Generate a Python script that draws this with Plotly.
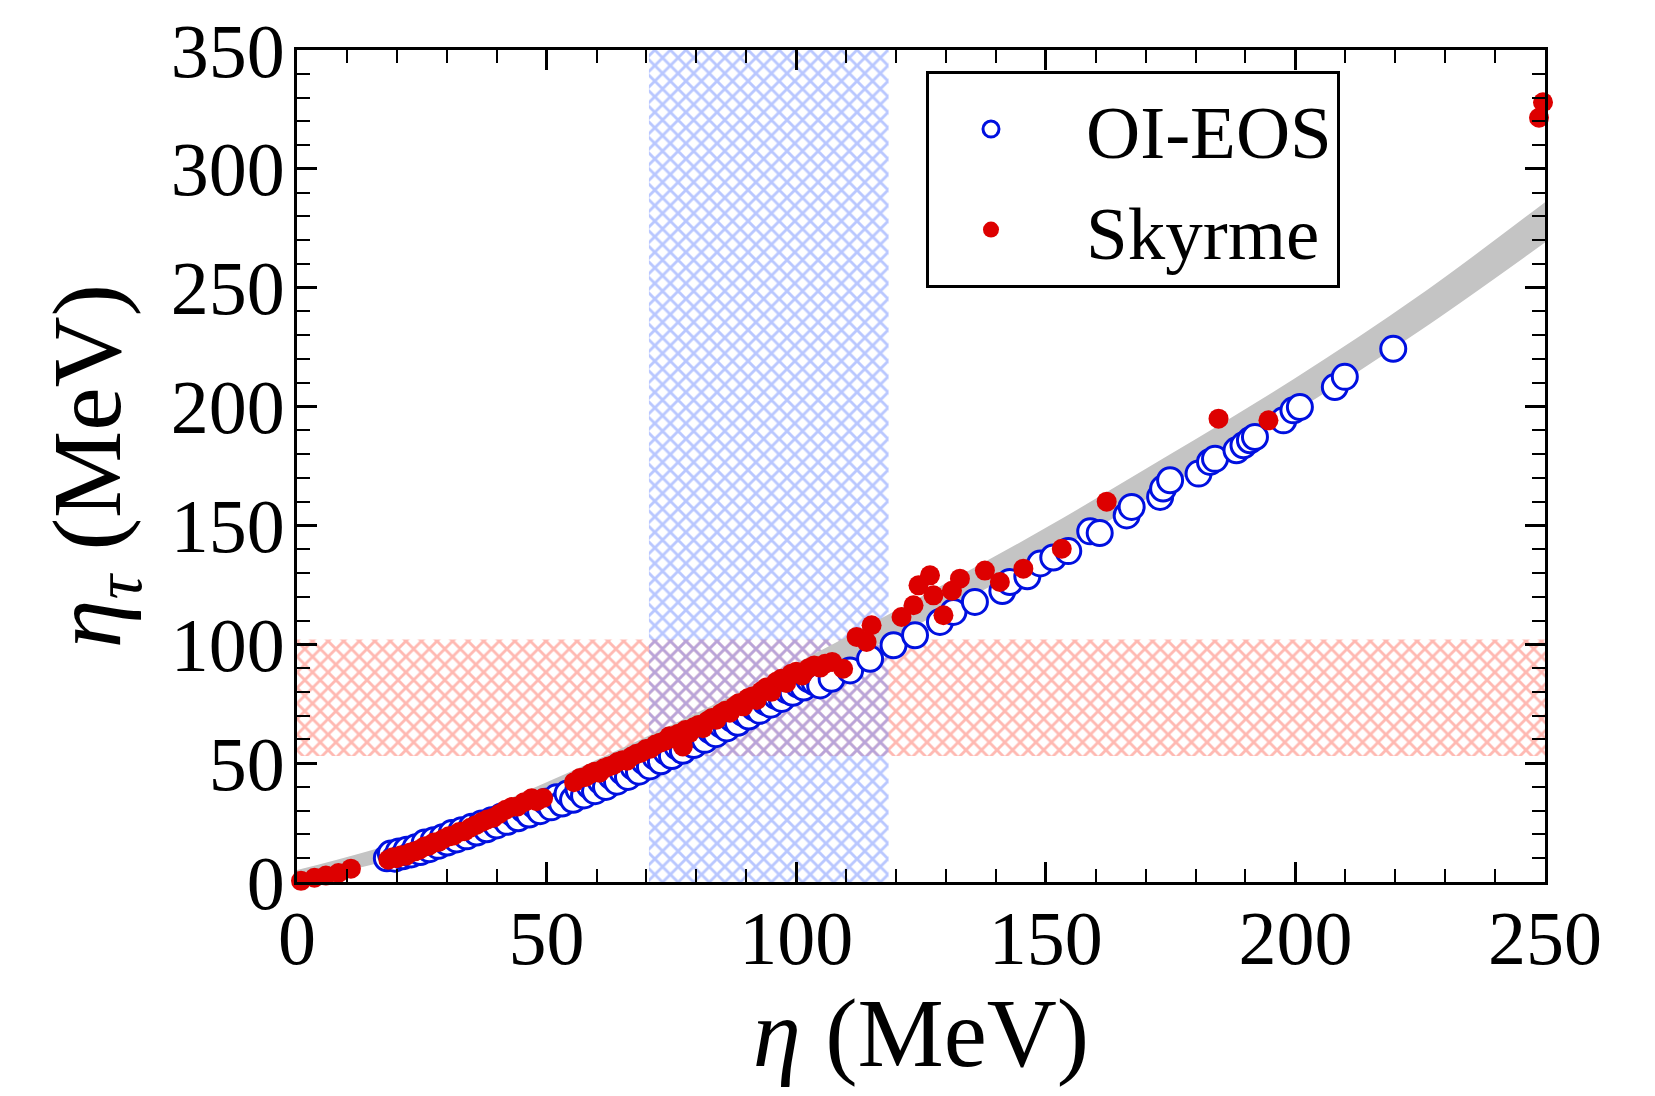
import plotly.graph_objects as go

# ---------------- data ----------------
# gray band (fit uncertainty)
band_x = [0, 25, 50, 75, 100, 125, 150, 175, 200, 225, 250]
band_lo = [0, 13, 33, 57, 83, 109, 137, 167, 198, 232, 269]
band_hi = [5, 20, 42, 66, 92, 120, 149, 180, 212, 247, 286]

# hatched constraint regions
red_band_y = [53, 102]      # eta_tau range
blue_band_x = [70.5, 118.5]  # eta range
x_range = [0, 250]
y_range = [0, 350]

# OI-EOS (open blue circles)
oi_x = [18.0, 18.8, 19.6, 20.4, 21.2, 22.0, 22.9, 23.8, 24.7, 25.6, 26.5, 27.4, 28.3, 29.2,
        30.1, 31.0, 32.0, 33.0, 34.0, 35.0, 36.0, 37.0, 38.0, 39.0, 40.0, 41.0, 42.1, 43.2,
        44.3, 45.4, 46.5, 47.6, 48.7, 49.8, 50.9, 52.0, 53.1, 54.2, 55.3, 56.4, 57.5, 58.6,
        59.7, 60.8, 61.9, 63.0, 64.1, 65.2, 66.3, 67.4, 68.5, 69.6, 70.7, 71.8, 72.9, 74.0,
        75.1, 76.2, 77.3, 78.4, 79.5, 80.6, 81.7, 82.8, 83.9, 85.0, 86.1, 87.2, 88.3, 89.4,
        90.5, 91.6, 92.7, 93.8, 94.9, 96.0, 97.1, 98.2, 99.3, 100.4, 101.5, 102.6, 103.7,
        104.8, 107.1, 110.8, 114.8, 119.5, 123.8, 128.8, 131.5, 135.8, 141.3, 142.8, 146.3,
        148.9, 151.5, 154.5, 158.9, 160.8, 166.2, 167.2, 172.9, 173.5, 174.9, 180.6, 182.9,
        183.9, 188.2, 189.6, 190.9, 191.9, 197.6, 199.6, 200.9, 207.9, 209.9, 219.6]
oi_y = [10.0, 12.0, 9.8, 12.8, 10.8, 13.6, 11.6, 14.6, 12.6, 16.6, 13.8, 17.6, 15.2, 18.8,
        16.6, 20.6, 17.9, 21.8, 19.2, 23.2, 20.8, 24.6, 22.2, 26.0, 23.8, 27.6, 25.3, 29.0,
        26.8, 30.6, 28.4, 32.2, 29.8, 33.8, 31.4, 35.6, 33.0, 37.2, 34.6, 39.0, 36.4, 40.6,
        38.2, 42.6, 40.0, 44.4, 42.2, 46.4, 44.2, 48.4, 46.4, 50.6, 48.6, 52.6, 50.8, 54.8,
        53.0, 57.0, 55.2, 59.2, 57.6, 61.6, 59.8, 63.8, 62.2, 66.2, 64.6, 68.6, 67.0, 71.0,
        69.6, 73.4, 72.0, 75.8, 74.6, 78.2, 77.0, 80.6, 79.6, 83.0, 81.8, 85.2, 84.0,
        82.7, 85.5, 89.0, 93.9, 99.6, 103.8, 109.4, 113.6, 117.8, 122.4, 126.2, 128.6,
        134.0, 136.5, 139.2, 147.5, 146.8, 154.2, 157.8, 162.0, 165.5, 169.0, 171.8, 176.7,
        178.0, 181.6, 183.7, 185.8, 187.2, 194.2, 198.4, 199.8, 208.2, 212.5, 224.3]

# Skyrme (filled red dots)
sk_x = [0.8, 3.5, 5.8, 8.3, 10.8,
        18.3, 19.2, 20.0, 20.9, 21.8, 22.7, 23.6, 24.5, 25.5, 26.4, 27.4, 28.3, 29.3, 30.4,
        31.4, 32.5, 33.6, 34.7, 35.8, 37.0, 38.1, 39.3, 40.5, 41.8, 43.0, 44.2, 45.5, 47.0,
        48.0, 49.3,
        55.5, 56.7, 57.8, 58.8, 59.7, 60.6, 61.5, 62.4, 63.3, 64.2, 65.2, 66.1, 67.0, 68.0,
        68.9, 69.9, 70.8, 71.8, 72.7, 73.6, 74.6, 75.5, 76.4, 77.3, 77.8, 78.6, 79.5, 80.4,
        81.3, 82.2, 83.1, 84.0, 84.9, 85.8, 86.7, 87.6, 88.5, 89.4, 90.3, 91.2, 92.1, 93.0,
        94.0, 95.0, 96.0, 97.0, 98.0, 99.0, 100.0, 101.2, 102.4, 103.6, 104.8, 105.8, 107.2,
        109.4, 112.1, 114.1, 115.1, 121.1, 123.5, 124.5, 126.8, 127.5, 129.5, 131.2, 132.8,
        137.8, 140.8, 145.5, 153.2, 162.2, 184.6, 194.6, 248.8, 249.6]
sk_y = [0.5, 1.8, 2.7, 3.8, 5.6,
        9.4, 10.4, 10.0, 11.3, 11.0, 12.4, 12.9, 13.6, 14.9, 15.3, 16.6, 16.8, 18.1, 19.2,
        19.6, 21.0, 21.4, 22.8, 23.9, 25.2, 26.3, 27.0, 28.6, 30.4, 31.5, 31.8, 33.6, 35.2,
        34.0, 35.3,
        42.0, 43.8, 44.2, 45.6, 46.4, 46.0, 47.8, 48.6, 49.1, 50.5, 51.2, 51.0, 52.8, 53.9,
        54.4, 55.9, 56.1, 57.8, 58.6, 59.2, 61.3, 60.4, 62.4, 57.0, 63.9, 62.6, 65.1, 66.0,
        64.7, 67.7, 69.0, 68.3, 70.9, 72.0, 71.2, 73.8, 75.2, 73.9, 77.3, 78.0, 76.6, 80.2,
        81.8, 80.0, 84.2, 85.5, 83.7, 87.6, 88.4, 86.9, 89.8, 91.1, 90.2, 91.8, 92.6,
        89.7, 103.1, 101.0, 108.0, 111.5, 116.4, 124.8, 129.0, 120.6, 112.2, 122.5, 127.6,
        131.0, 126.2, 131.8, 140.2, 160.0, 194.9, 194.2, 321.5, 328.0]

# ---------------- figure ----------------
FONT = "Liberation Serif"
fig = go.Figure()

# red horizontal hatched band
fig.add_trace(go.Scatter(
    x=[x_range[0], x_range[1], x_range[1], x_range[0], x_range[0]],
    y=[red_band_y[0], red_band_y[0], red_band_y[1], red_band_y[1], red_band_y[0]],
    mode="lines", line=dict(width=0), fill="toself", fillcolor="rgba(0,0,0,0)",
    fillpattern=dict(shape="x", fgcolor="#ff7466", bgcolor="rgba(0,0,0,0)",
                     size=11, solidity=0.45, fillmode="overlay"),
    hoverinfo="skip", showlegend=False))

# blue vertical hatched band
fig.add_trace(go.Scatter(
    x=[blue_band_x[0], blue_band_x[1], blue_band_x[1], blue_band_x[0], blue_band_x[0]],
    y=[y_range[0], y_range[0], y_range[1], y_range[1], y_range[0]],
    mode="lines", line=dict(width=0), fill="toself", fillcolor="rgba(0,0,0,0)",
    fillpattern=dict(shape="x", fgcolor="#7390ff", bgcolor="rgba(0,0,0,0)",
                     size=11, solidity=0.45, fillmode="overlay"),
    hoverinfo="skip", showlegend=False))

# gray band
fig.add_trace(go.Scatter(x=band_x, y=band_lo, mode="lines", line=dict(width=0, shape="spline"),
                         hoverinfo="skip", showlegend=False))
fig.add_trace(go.Scatter(x=band_x, y=band_hi, mode="lines", line=dict(width=0, shape="spline"),
                         fill="tonexty", fillcolor="#c4c4c4", hoverinfo="skip", showlegend=False))

NB = "\u00a0"
fig.add_trace(go.Scatter(
    x=oi_x, y=oi_y, mode="markers", name=NB * 4 + "OI-EOS",
    marker=dict(symbol="circle", size=25, color="white", line=dict(color="#0010e0", width=3))))
fig.add_trace(go.Scatter(
    x=sk_x, y=sk_y, mode="markers", name=NB * 4 + "Skyrme", cliponaxis=False,
    marker=dict(symbol="circle", size=20, color="#dd0000", line=dict(width=0))))

axis_common = dict(
    showline=True, linewidth=3, linecolor="black", mirror="ticks",
    ticks="inside", ticklen=20, tickwidth=2.5, tickcolor="black",
    showgrid=False, zeroline=False, automargin=False, ticklabeloverflow="allow",
    tickfont=dict(family=FONT, size=76, color="black"),
)

fig.update_xaxes(range=x_range, dtick=50, tick0=0,
                 minor=dict(dtick=10, ticks="inside", ticklen=13, tickwidth=2, tickcolor="black"),
                 title=dict(text="<i>η</i> (MeV)", font=dict(family=FONT, size=97, color="black"),
                            standoff=0),
                 ticklabelstandoff=-12,
                 **axis_common)
fig.update_yaxes(range=y_range, dtick=50, tick0=0,
                 minor=dict(dtick=10, ticks="inside", ticklen=13, tickwidth=2, tickcolor="black"),
                 title=dict(text="<i>η</i><sub><i>τ</i></sub> (MeV)",
                            font=dict(family=FONT, size=98, color="black"), standoff=18),
                 ticklabelstandoff=-6,
                 **axis_common)

# the page body adds an 8px margin, so the figure is 8px smaller and shifted margins
fig.update_layout(
    width=1647, height=1088,
    margin=dict(l=289, r=110, t=42, b=214),
    paper_bgcolor="white", plot_bgcolor="white",
    font=dict(family=FONT, color="black"),
    showlegend=True,
    legend=dict(x=0.504, y=0.975, xanchor="left", yanchor="top",
                bgcolor="white", bordercolor="black", borderwidth=3,
                font=dict(family=FONT, size=75, color="black"),
                itemsizing="trace", tracegroupgap=0, indentation=42,
                traceorder="normal"),
)

fig.write_html("out.html")
